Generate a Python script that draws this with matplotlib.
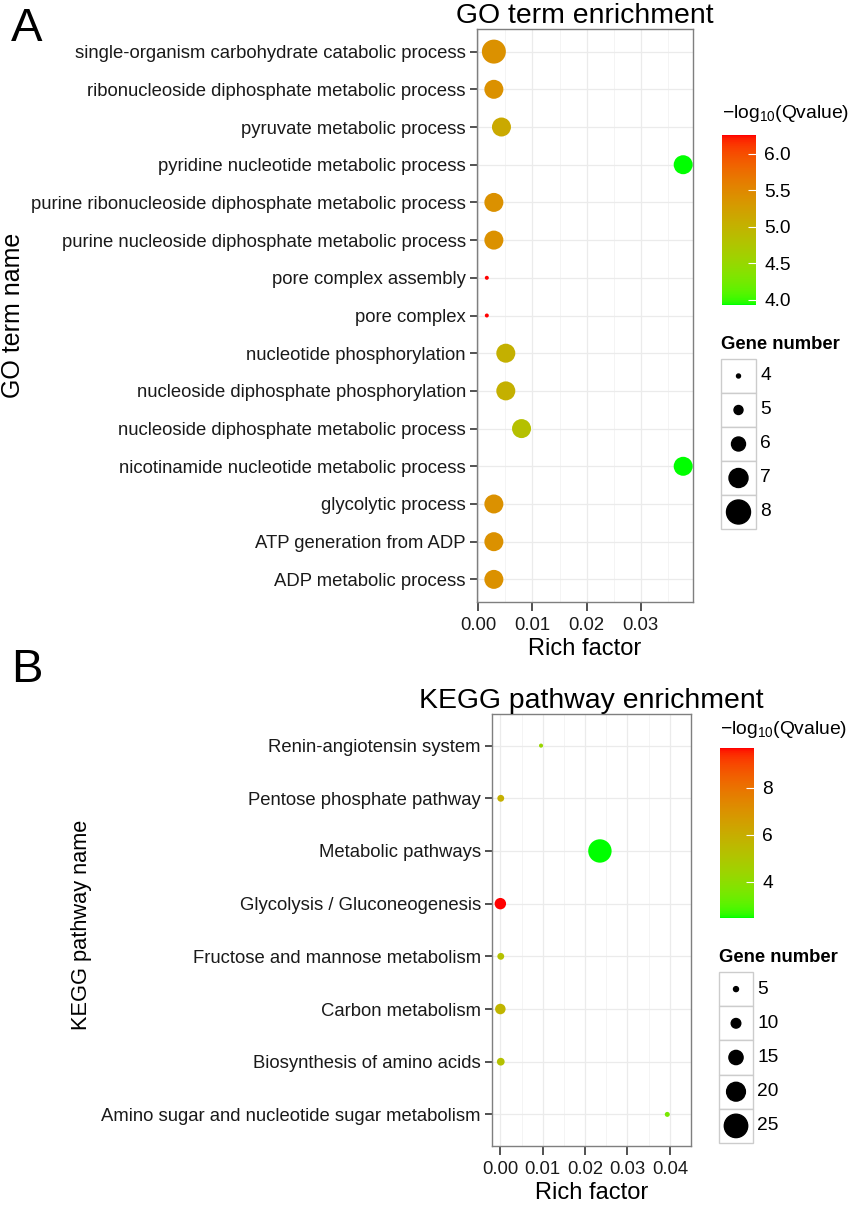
import numpy as np
import matplotlib
matplotlib.use('Agg')
import matplotlib.pyplot as plt
from matplotlib.colors import ListedColormap, Normalize
from matplotlib.cm import ScalarMappable
from matplotlib.patches import Rectangle

plt.rcParams['font.family'] = ['Liberation Sans', 'DejaVu Sans']
plt.rcParams['mathtext.fontset'] = 'custom'
plt.rcParams['mathtext.rm'] = 'Liberation Sans'
plt.rcParams['mathtext.it'] = 'Liberation Sans:italic'

# GO term enrichment (listed top to bottom)
go_terms = ['single-organism carbohydrate catabolic process',
            'ribonucleoside diphosphate metabolic process',
            'pyruvate metabolic process',
            'pyridine nucleotide metabolic process',
            'purine ribonucleoside diphosphate metabolic process',
            'purine nucleoside diphosphate metabolic process',
            'pore complex assembly',
            'pore complex',
            'nucleotide phosphorylation',
            'nucleoside diphosphate phosphorylation',
            'nucleoside diphosphate metabolic process',
            'nicotinamide nucleotide metabolic process',
            'glycolytic process',
            'ATP generation from ADP',
            'ADP metabolic process']
go_rich = [0.0029, 0.0029, 0.0043, 0.0378, 0.0029, 0.0029, 0.0016, 0.0016,
           0.0051, 0.0051, 0.0080, 0.0378, 0.0029, 0.0029, 0.0029]
go_genes = [8, 7, 7, 7, 7, 7, 4, 4, 7, 7, 7, 7, 7, 7, 7]
go_qlog = [5.4, 5.4, 5.12, 3.93, 5.4, 5.4, 6.26, 6.26,
           5.03, 5.03, 4.83, 3.93, 5.4, 5.4, 5.4]
go_xticks = [0.00, 0.01, 0.02, 0.03]
go_cticks = [4.0, 4.5, 5.0, 5.5, 6.0]
go_size_keys = [4, 5, 6, 7, 8]

# KEGG pathway enrichment (listed top to bottom)
kegg_terms = ['Renin-angiotensin system',
              'Pentose phosphate pathway',
              'Metabolic pathways',
              'Glycolysis / Gluconeogenesis',
              'Fructose and mannose metabolism',
              'Carbon metabolism',
              'Biosynthesis of amino acids',
              'Amino sugar and nucleotide sugar metabolism']
kegg_rich = [0.0096, 0.0001, 0.0235, 0.0000, 0.0001, 0.0000, 0.0001, 0.0394]
kegg_genes = [4, 7, 25, 12, 7, 11, 8, 5]
kegg_qlog = [4.3, 5.9, 2.45, 9.7, 5.2, 5.7, 5.2, 3.5]
kegg_xticks = [0.00, 0.01, 0.02, 0.03, 0.04]
kegg_cticks = [4, 6, 8]
kegg_size_keys = [5, 10, 15, 20, 25]


# ggplot-like green -> red gradient interpolated in Lab space
M = np.array([[0.4124, 0.3576, 0.1805],
              [0.2126, 0.7152, 0.0722],
              [0.0193, 0.1192, 0.9505]])
WHITE = np.array([0.95047, 1.0, 1.08883])


def rgb2lab(rgb):
    c = np.asarray(rgb, float)
    lin = np.where(c <= 0.04045, c / 12.92, ((c + 0.055) / 1.055) ** 2.4)
    xyz = lin @ M.T / WHITE
    d = 6 / 29
    f = np.where(xyz > d ** 3, np.cbrt(xyz), xyz / (3 * d * d) + 4 / 29)
    return np.stack([116 * f[..., 1] - 16,
                     500 * (f[..., 0] - f[..., 1]),
                     200 * (f[..., 1] - f[..., 2])], -1)


def lab2rgb(lab):
    fy = (lab[..., 0] + 16) / 116
    f = np.stack([fy + lab[..., 1] / 500, fy, fy - lab[..., 2] / 200], -1)
    d = 6 / 29
    xyz = np.where(f > d, f ** 3, 3 * d * d * (f - 4 / 29)) * WHITE
    lin = np.clip(xyz @ np.linalg.inv(M).T, 0, 1)
    c = np.where(lin <= 0.0031308, 12.92 * lin, 1.055 * lin ** (1 / 2.4) - 0.055)
    return np.clip(c, 0, 1)


t = np.linspace(0, 1, 256)[:, None]
lab_lo = rgb2lab([0.0, 1.0, 0.0])
lab_hi = rgb2lab([1.0, 0.0, 0.0])
cmap = ListedColormap(lab2rgb(lab_lo + t * (lab_hi - lab_lo)))

W, H = 850, 1215
fig = plt.figure(figsize=(W / 100, H / 100), dpi=100)


def px_axes(x0, y0, x1, y1):
    return fig.add_axes([x0 / W, 1 - y1 / H, (x1 - x0) / W, (y1 - y0) / H])


def pt(dpx):
    # pixel diameter -> scatter size (points^2)
    return (np.asarray(dpx, float) * 0.72) ** 2


def bubble_panel(box, terms, rich, genes, qlog, xticks, title, size_fn):
    ax = px_axes(*box)
    n = len(terms)
    y = np.arange(n)
    norm = Normalize(min(qlog), max(qlog))
    lo, hi = min(rich), max(rich)
    pad = 0.05 * (hi - lo)
    ax.set_xlim(lo - pad, hi + pad)
    ax.set_ylim(n - 1 + 0.6, -0.6)
    ax.set_xticks(xticks)
    ax.set_xticklabels(['%.2f' % v for v in xticks])
    mids = [(a + b) / 2 for a, b in zip(xticks[:-1], xticks[1:])]
    mids.append(xticks[-1] + (xticks[1] - xticks[0]) / 2)
    ax.set_xticks(mids, minor=True)
    ax.set_yticks(y)
    ax.set_yticklabels(terms)
    ax.grid(which='major', color='#EBEBEB', lw=0.9)
    ax.grid(which='minor', axis='x', color='#F3F3F3', lw=0.6)
    ax.set_axisbelow(True)
    ax.tick_params(which='major', width=1.2, color='#333333',
                   labelsize=13.3, labelcolor='#1A1A1A')
    ax.tick_params(axis='x', length=6.5, pad=4.5)
    ax.tick_params(axis='y', length=5, pad=3)
    ax.tick_params(which='minor', length=0)
    for s in ax.spines.values():
        s.set_color('#7F7F7F')
        s.set_linewidth(1.0)
    ax.scatter(rich, y, s=pt(size_fn(np.array(genes))), c=qlog, cmap=cmap,
               norm=norm, edgecolors='none', zorder=3, clip_on=False)
    ax.set_xlabel('Rich factor', fontsize=17, labelpad=3)
    ax.set_title(title, fontsize=20.4, pad=4.5)
    return ax, norm


def colorbar_legend(norm, ticks, fmt, bar, title_y):
    cax = px_axes(*bar)
    cb = fig.colorbar(ScalarMappable(norm=norm, cmap=cmap), cax=cax)
    cb.outline.set_visible(False)
    cb.set_ticks(ticks)
    cb.set_ticklabels([fmt % v for v in ticks])
    cax.tick_params(direction='in', color='white', length=6, width=0.8,
                    labelsize=13.8, pad=6)
    fig.text(bar[0] / W, 1 - title_y / H, r'$-\mathrm{log}_{10}$(Qvalue)',
             fontsize=13.9, va='center', ha='left')


def size_legend(keys, size_fn, x0, y0, key_w, key_h, title_y):
    lax = px_axes(x0, y0, x0 + key_w, y0 + key_h * len(keys))
    lax.set_xlim(0, 1)
    lax.set_ylim(len(keys), 0)
    lax.axis('off')
    for i, k in enumerate(keys):
        lax.add_patch(Rectangle((0, i), 1, 1, facecolor='white',
                                edgecolor='#CCCCCC', lw=1.0, clip_on=False))
        lax.text(1.12, i + 0.5, str(k), fontsize=13.8, va='center', ha='left')
    lax.scatter([0.5] * len(keys), np.arange(len(keys)) + 0.5,
                s=pt(size_fn(np.array(keys))), color='black', zorder=3,
                clip_on=False)
    fig.text(x0 / W, 1 - title_y / H, 'Gene number', fontsize=13.3,
             fontweight='bold', va='center', ha='left')


def go_size(n):
    return 4 + 5.0 * (n - 4)


def kegg_size(n):
    return 5 + 0.92 * (n - 5)


# Panel A: GO term enrichment
ax1, norm1 = bubble_panel((477, 29, 693, 602), go_terms, go_rich, go_genes,
                          go_qlog, go_xticks, 'GO term enrichment', go_size)
colorbar_legend(norm1, go_cticks, '%.1f', (722, 135, 756, 305), 113)
size_legend(go_size_keys, go_size, 721, 359, 35, 34, 345)
fig.text(13 / W, 1 - 315 / H, 'GO term name', rotation=90, fontsize=18,
         va='center', ha='center')
fig.text(11 / W, 1 - 7 / H, 'A', fontsize=34, va='top', ha='left')

# Panel B: KEGG pathway enrichment
ax2, norm2 = bubble_panel((492, 714, 691, 1146), kegg_terms, kegg_rich,
                          kegg_genes, kegg_qlog, kegg_xticks,
                          'KEGG pathway enrichment', kegg_size)
colorbar_legend(norm2, kegg_cticks, '%d', (720, 748, 754, 918), 730)
size_legend(kegg_size_keys, kegg_size, 719, 972, 34, 34.2, 958)
fig.text(81 / W, 1 - 925 / H, 'KEGG pathway name', rotation=90, fontsize=15.7,
         va='center', ha='center')
fig.text(11 / W, 1 - 648 / H, 'B', fontsize=34, va='top', ha='left')

fig.savefig('out.png', dpi=100)
